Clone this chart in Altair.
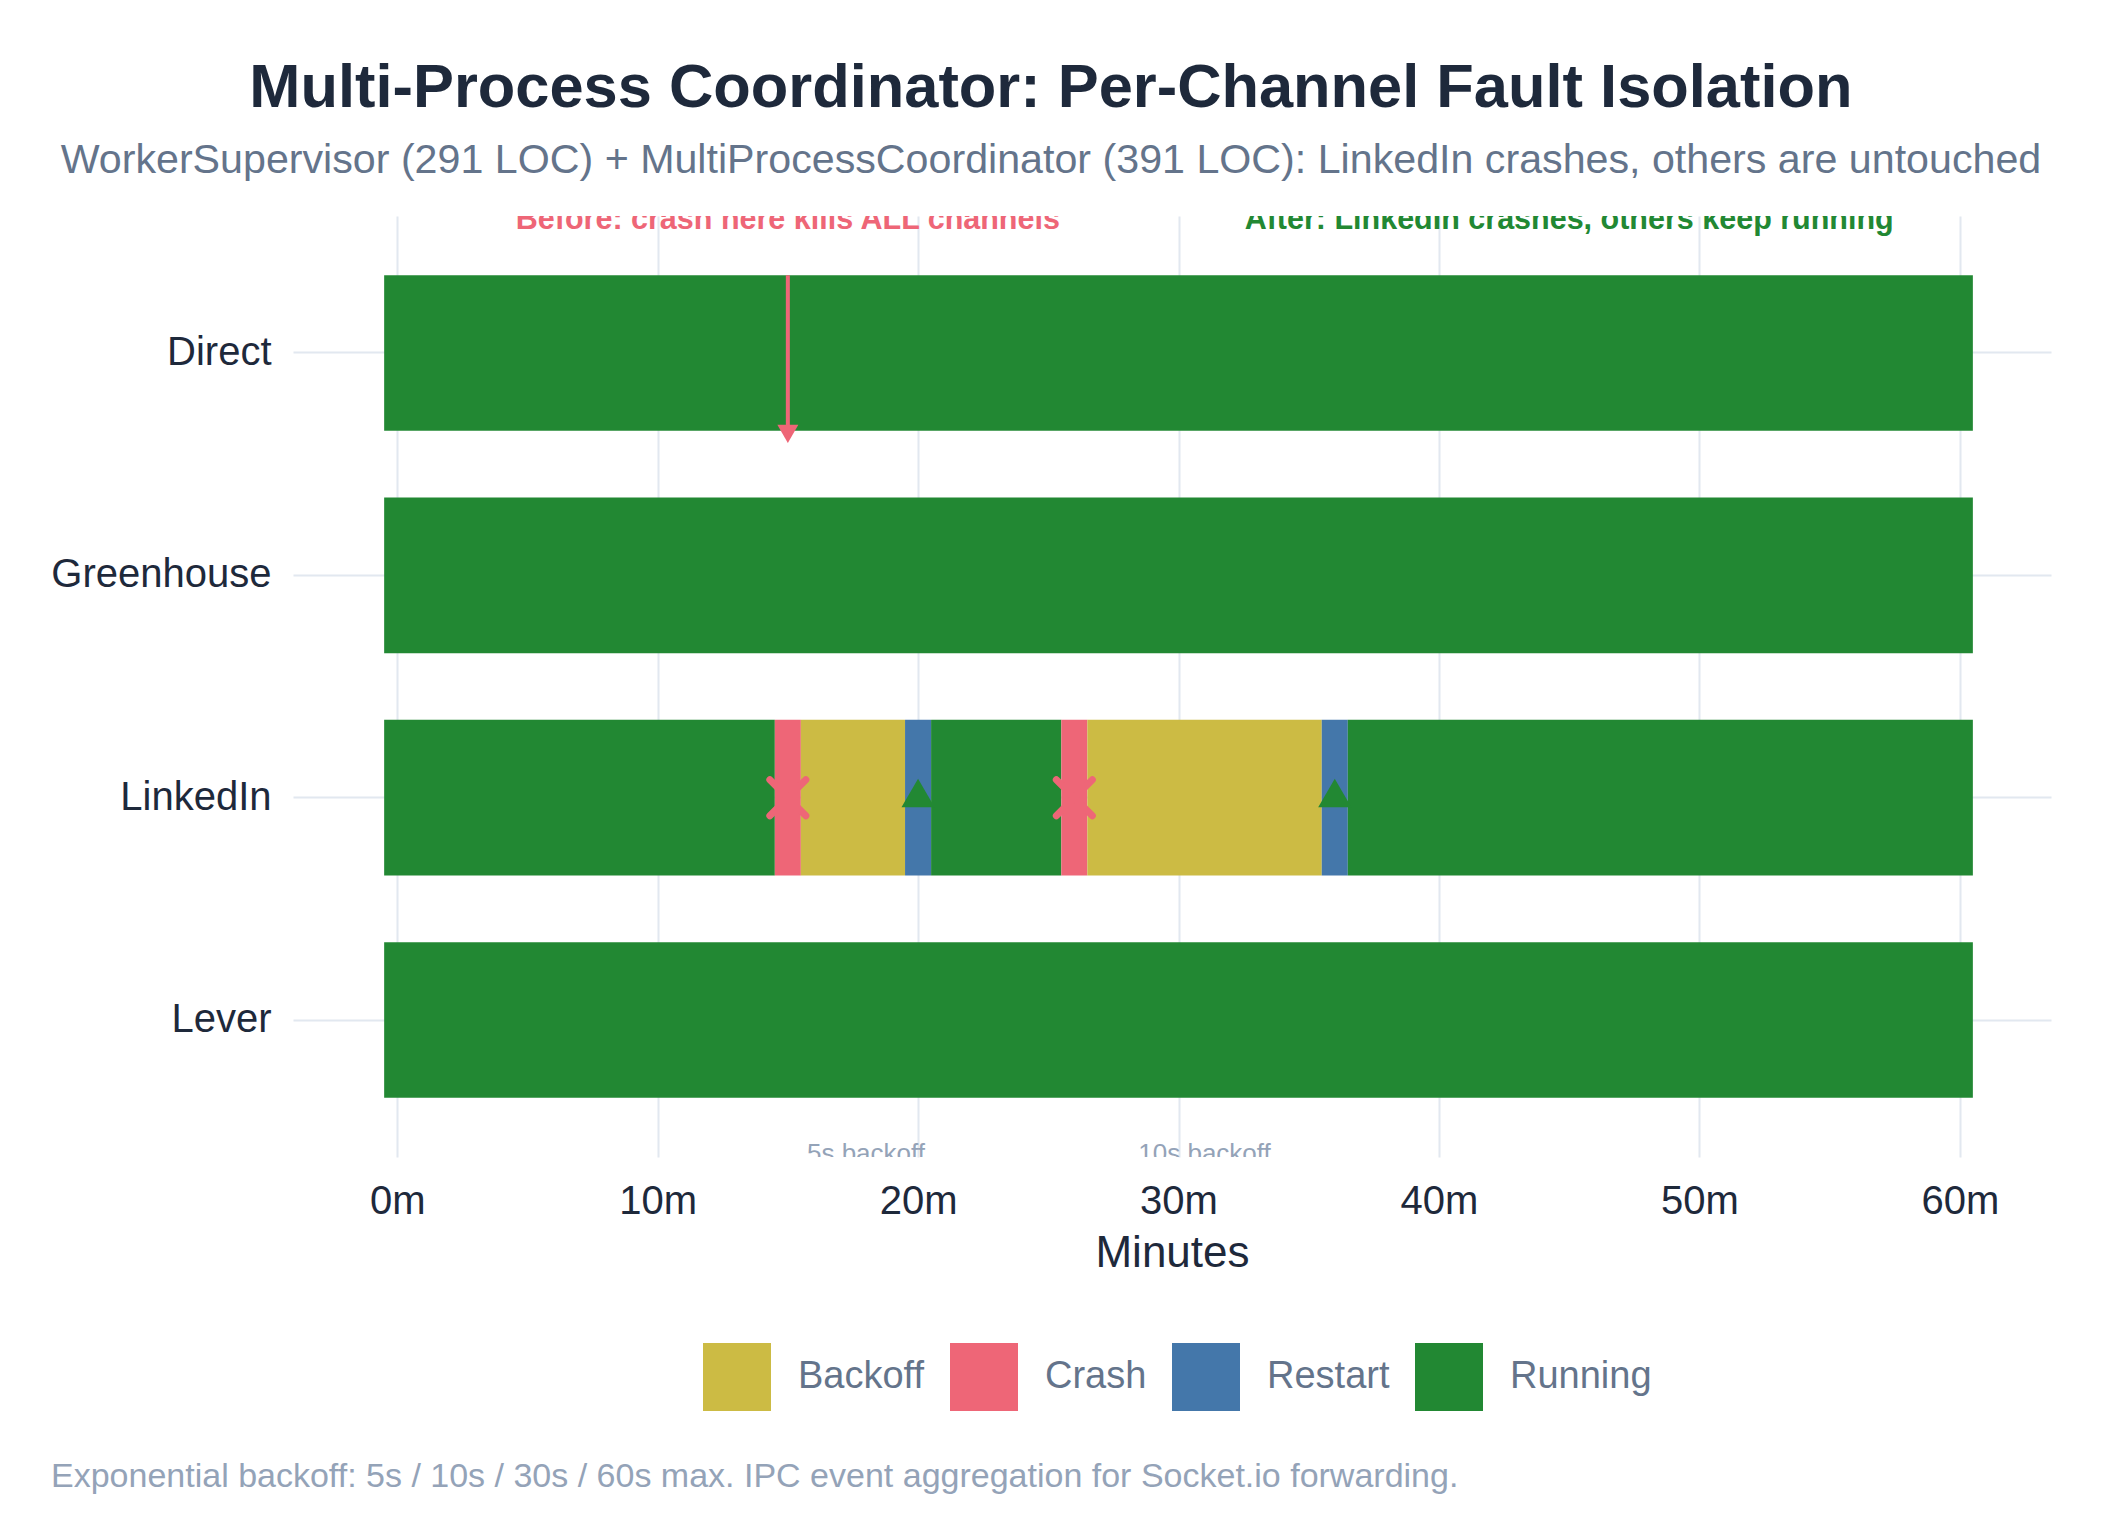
import altair as alt
import pandas as pd

# ---------------- data ----------------
channels = ["Direct", "Greenhouse", "LinkedIn", "Lever"]
states = ["Backoff", "Crash", "Restart", "Running"]
state_colors = ["#CCBB44", "#EE6677", "#4477AA", "#228833"]

seg_channel = ["Direct", "Greenhouse",
               "LinkedIn", "LinkedIn", "LinkedIn", "LinkedIn", "LinkedIn",
               "LinkedIn", "LinkedIn", "LinkedIn", "LinkedIn",
               "Lever"]
seg_state = ["Running", "Running",
             "Running", "Crash", "Backoff", "Restart", "Running",
             "Crash", "Backoff", "Restart", "Running",
             "Running"]
seg_start = [-0.5, -0.5, -0.5, 14.5, 15.5, 19.5, 20.5, 25.5, 26.5, 35.5, 36.5, -0.5]
seg_end = [60.5, 60.5, 14.5, 15.5, 19.5, 20.5, 25.5, 26.5, 35.5, 36.5, 60.5, 60.5]

crash_minutes = [15, 26]
restart_minutes = [20, 36]
event_channel = "LinkedIn"

backoff_labels = ["5s backoff", "10s backoff"]
backoff_label_minutes = [18, 31]

note_texts = ["Before: crash here kills ALL channels",
              "After: LinkedIn crashes, others keep running"]
note_minutes = [15, 45]
note_colors = ["#EE6677", "#228833"]

arrow_minutes = [15]
arrow_channels = ["Direct"]

x_ticks = [0, 10, 20, 30, 40, 50, 60]

title_text = "Multi-Process Coordinator: Per-Channel Fault Isolation"
subtitle_text = ("WorkerSupervisor (291 LOC) + MultiProcessCoordinator (391 LOC): "
                 "LinkedIn crashes, others are untouched")
footer_text = ("Exponential backoff: 5s / 10s / 30s / 60s max. "
               "IPC event aggregation for Socket.io forwarding.")

# ---------------- tables ----------------
seg_df = pd.DataFrame({"channel": seg_channel, "state": seg_state,
                       "start": seg_start, "end": seg_end})
crash_df = pd.DataFrame({"channel": [event_channel] * len(crash_minutes),
                         "minute": crash_minutes})
restart_df = pd.DataFrame({"channel": [event_channel] * len(restart_minutes),
                           "minute": restart_minutes})
backoff_df = pd.DataFrame({"label": backoff_labels, "minute": backoff_label_minutes})
note_df = pd.DataFrame({"label": note_texts, "minute": note_minutes, "color": note_colors})
arrow_df = pd.DataFrame({"channel": arrow_channels, "minute": arrow_minutes})
footer_df = pd.DataFrame({"label": [footer_text]})

W, H = 1758, 941

x_scale = alt.Scale(domain=[-4, 63.5], nice=False, zero=False)
y_scale = alt.Scale(domain=channels, paddingInner=0.3, paddingOuter=0.266)


def y_enc(bp=None):
    if bp is None:
        return alt.Y("channel:N", sort=channels, scale=y_scale, title=None)
    return alt.Y("channel:N", sort=channels, scale=y_scale, title=None, bandPosition=bp)


bars = alt.Chart(seg_df).mark_bar(strokeWidth=0).encode(
    x=alt.X("start:Q", scale=x_scale, title="Minutes",
            axis=alt.Axis(values=x_ticks, labelExpr="datum.value + 'm'")),
    x2="end:Q",
    y=alt.Y("channel:N", sort=channels, scale=y_scale, title=None,
            axis=alt.Axis(bandPosition=0.5, labelLimit=600)),
    color=alt.Color("state:N", scale=alt.Scale(domain=states, range=state_colors),
                    legend=alt.Legend(orient="none", legendX=410, legendY=1127,
                                      direction="horizontal", title=None,
                                      symbolType="square", symbolSize=4624,
                                      symbolStrokeWidth=0, symbolOpacity=1,
                                      labelFontSize=38, labelColor="#64748b",
                                      labelOffset=27, columnPadding=25, padding=0)),
)

arrow = alt.Chart(arrow_df).mark_rule(color="#EE6677", strokeWidth=4).encode(
    x=alt.X("minute:Q", scale=x_scale, title="Minutes"),
    y=y_enc(0),
    y2=alt.Y2("channel", bandPosition=1),
)

arrow_head = alt.Chart(arrow_df).mark_point(
    shape="triangle-down", filled=True, size=441, color="#EE6677", opacity=1, yOffset=3
).encode(
    x=alt.X("minute:Q", scale=x_scale, title="Minutes"),
    y=y_enc(1),
)

crash_marks = alt.Chart(crash_df).mark_point(
    shape="M-1,-1L1,1M-1,1L1,-1", filled=False, size=1296, strokeWidth=7,
    strokeCap="round", color="#EE6677", opacity=1
).encode(
    x=alt.X("minute:Q", scale=x_scale, title="Minutes"),
    y=y_enc(),
)

restart_marks = alt.Chart(restart_df).mark_point(
    shape="triangle-up", filled=True, size=1100, color="#228833", opacity=1
).encode(
    x=alt.X("minute:Q", scale=x_scale, title="Minutes"),
    y=y_enc(0.47),
)

notes = alt.Chart(note_df).mark_text(
    clip=True, fontSize=30.5, fontWeight="bold", baseline="alphabetic", align="center"
).encode(
    x=alt.X("minute:Q", scale=x_scale, title="Minutes"),
    y=alt.value(13),
    text="label:N",
    color=alt.Color("color:N", scale=None),
)

backoff_text = alt.Chart(backoff_df).mark_text(
    clip=True, fontSize=26, baseline="alphabetic", align="center", color="#94a3b8"
).encode(
    x=alt.X("minute:Q", scale=x_scale, title="Minutes"),
    y=alt.value(H + 5),
    text="label:N",
)

footer = alt.Chart(footer_df).mark_text(
    fontSize=34, baseline="middle", align="left", color="#94a3b8"
).encode(
    x=alt.value(-242),
    y=alt.value(1261),
    text="label:N",
)

chart = alt.layer(
    bars, arrow, arrow_head, crash_marks, restart_marks, notes, backoff_text, footer
).properties(
    width=W, height=H,
    padding={"left": 42, "top": 50, "right": 30, "bottom": 20},
    title=alt.TitleParams(
        text=title_text, subtitle=subtitle_text, anchor="middle", frame="bounds",
        fontSize=61.4, fontWeight="bold", color="#1e293b",
        subtitleFontSize=41.2, subtitleColor="#64748b", subtitleFontWeight="normal",
        subtitlePadding=20, offset=35,
    ),
).configure(
    font="Liberation Sans",
).configure_view(
    stroke=None,
).configure_axis(
    grid=True, gridColor="#e2e8f0", gridWidth=2,
    domain=False, ticks=False, tickSize=0,
    labelFontSize=40, labelColor="#1e293b",
    titleFontSize=44, titleColor="#1e293b", titleFontWeight="normal",
).configure_axisX(
    labelPadding=24, titlePadding=10,
).configure_axisY(
    labelPadding=22,
)

chart.save("out.html", embed_options={"renderer": "svg", "actions": False})
